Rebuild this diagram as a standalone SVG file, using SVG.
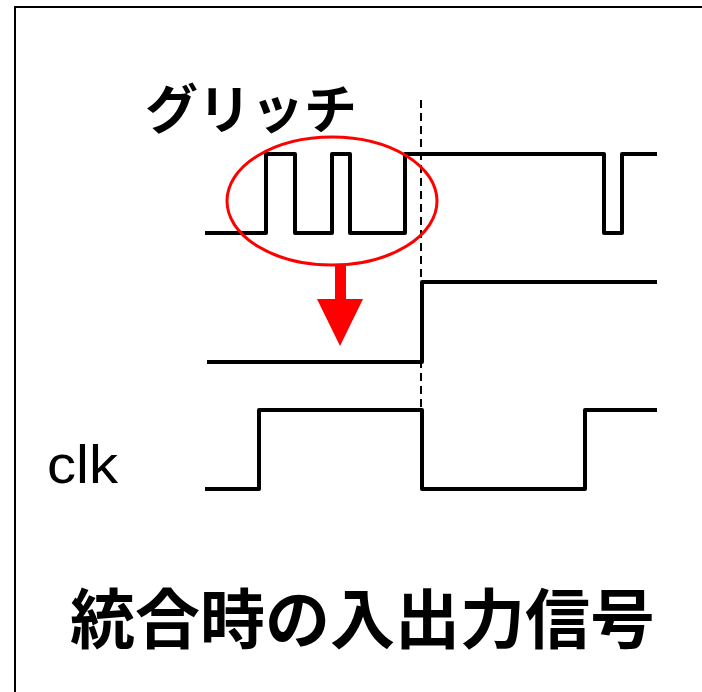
<svg xmlns="http://www.w3.org/2000/svg" width="702" height="692" viewBox="0 0 702 692">
<style>
.sig{fill:none;stroke:#000;stroke-width:4;stroke-linejoin:round;stroke-linecap:butt}
.jp{font-family:"Noto Sans CJK JP","Noto Sans",sans-serif;fill:#000}
</style>
<rect x="0" y="0" width="702" height="692" fill="#fff"/>
<rect x="15" y="7" width="700" height="700" fill="none" stroke="#000" stroke-width="2"/>
<g id="connectors">
<line x1="421" y1="100" x2="421" y2="410" stroke="#000" stroke-width="2" stroke-dasharray="8,5"/>
</g>
<g id="glitch-signal">
<path class="sig" d="M205,233 H266 V154 H295 V233 H332 V154 H350 V233 H405 V154 H604 V233 H622 V154 H657"/>
</g>
<g id="output-signal">
<path class="sig" d="M207,362 H422 V282 H657"/>
</g>
<g id="clk-signal">
<path class="sig" d="M205,489 H259 V410 H422 V489 H585 V410 H657"/>
</g>
<g id="glitch-ellipse">
<ellipse cx="332" cy="201" rx="105" ry="64" fill="none" stroke="#f00" stroke-width="3"/>
<polygon points="335,265 346,265 346,299 363,299 340,346 317,299 335,299" fill="#f00"/>
</g>
<g id="labels">
<text class="jp" x="145" y="129" font-size="53" font-weight="700">グリッチ</text>
<text x="47" y="483" font-family="Liberation Sans,Arial,sans-serif" font-size="54" textLength="71" lengthAdjust="spacingAndGlyphs">clk</text>
<text class="jp" x="70" y="643" font-size="65" font-weight="700">統合時の入出力信号</text>
</g>
</svg>
